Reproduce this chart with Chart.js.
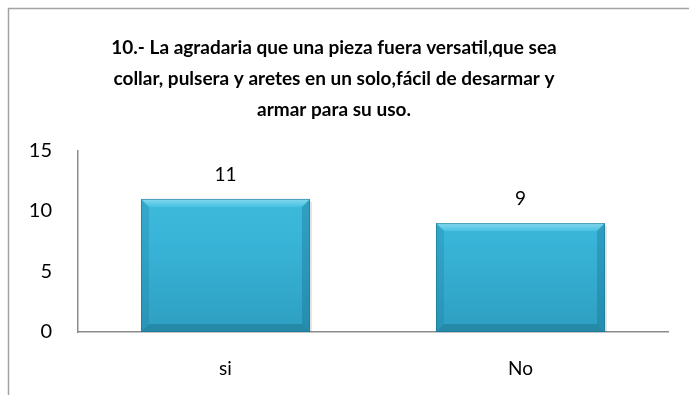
<!DOCTYPE html>
<html>
<head>
<meta charset="utf-8">
<script src="https://cdn.jsdelivr.net/npm/chart.js@4.4.1/dist/chart.umd.min.js"></script>
<style>
  html, body { margin: 0; padding: 0; background: #fff; }
  #wrap { width: 689px; height: 395px; position: relative; }
</style>
</head>
<body>
<div id="wrap"><canvas id="respuestaChart"></canvas></div>
<script>
const titleLines = [
  "10.- La agradaria que una pieza fuera versatil,que sea",
  "collar, pulsera y aretes en un solo,fácil de desarmar y",
  "armar para su uso."
];
const categories = ["si", "No"];
const respuestas = [11, 9];
const yTicks = [0, 5, 10, 15];

const FONT = "Lato, 'Open Sans', sans-serif";

// frame lines on the left and top edge
const framePlugin = {
  id: 'frame',
  beforeDraw(chart) {
    const ctx = chart.ctx;
    ctx.save();
    ctx.strokeStyle = '#a3a3a3';
    ctx.lineWidth = 1.5;
    ctx.beginPath();
    ctx.moveTo(8.5, chart.height);
    ctx.lineTo(8.5, 8.5);
    ctx.lineTo(chart.width, 8.5);
    ctx.stroke();
    ctx.restore();
  }
};

// bevelled edges and value labels on top of each bar
const bevelPlugin = {
  id: 'bevel',
  afterDatasetsDraw(chart) {
    const ctx = chart.ctx;
    const meta = chart.getDatasetMeta(0);
    const b = 8;
    meta.data.forEach((bar, i) => {
      const p = bar.getProps(['x', 'y', 'base', 'width'], true);
      const l = p.x - p.width / 2, r = p.x + p.width / 2, t = p.y, bt = p.base;
      ctx.save();
      // soft shadow on right side
      ctx.fillStyle = 'rgba(0,0,0,0.10)';
      ctx.fillRect(r, t + 3, 2, bt - t - 3);
      // top bevel
      let g = ctx.createLinearGradient(0, t, 0, t + b);
      g.addColorStop(0, '#86d9ee');
      g.addColorStop(1, '#48c1e1');
      ctx.fillStyle = g;
      ctx.beginPath();
      ctx.moveTo(l, t); ctx.lineTo(r, t); ctx.lineTo(r - b, t + b); ctx.lineTo(l + b, t + b);
      ctx.closePath(); ctx.fill();
      // left bevel
      ctx.fillStyle = 'rgba(25,110,140,0.22)';
      ctx.beginPath();
      ctx.moveTo(l, t); ctx.lineTo(l + b, t + b); ctx.lineTo(l + b, bt - b); ctx.lineTo(l, bt);
      ctx.closePath(); ctx.fill();
      // right bevel
      ctx.fillStyle = 'rgba(20,100,130,0.3)';
      ctx.beginPath();
      ctx.moveTo(r, t); ctx.lineTo(r - b, t + b); ctx.lineTo(r - b, bt - b); ctx.lineTo(r, bt);
      ctx.closePath(); ctx.fill();
      // bottom bevel
      ctx.fillStyle = 'rgba(15,85,110,0.3)';
      ctx.beginPath();
      ctx.moveTo(l, bt); ctx.lineTo(l + b, bt - b); ctx.lineTo(r - b, bt - b); ctx.lineTo(r, bt);
      ctx.closePath(); ctx.fill();
      ctx.strokeStyle = 'rgba(25,110,140,0.55)';
      ctx.lineWidth = 1;
      ctx.strokeRect(l + 0.5, t + 0.5, p.width - 1, bt - t - 1);
      // value label
      ctx.fillStyle = '#000';
      ctx.font = '19px ' + FONT;
      ctx.textAlign = 'center';
      ctx.textBaseline = 'middle';
      ctx.fillText(String(respuestas[i]), p.x, t - 24);
      ctx.restore();
    });
  }
};

new Chart(document.getElementById('respuestaChart'), {
  type: 'bar',
  data: {
    labels: categories,
    datasets: [{
      data: respuestas,
      backgroundColor: (c) => {
        const area = c.chart.chartArea;
        if (!area) return '#38b4d8';
        const g = c.chart.ctx.createLinearGradient(0, area.top, 0, area.bottom);
        g.addColorStop(0, '#45c0e0');
        g.addColorStop(0.5, '#38b4d8');
        g.addColorStop(1, '#2e9fc1');
        return g;
      },
      borderWidth: 0,
      categoryPercentage: 1,
      barPercentage: 0.573
    }]
  },
  options: {
    responsive: true,
    maintainAspectRatio: false,
    animation: false,
    layout: { padding: { left: 0, right: 21, top: 0, bottom: 0 } },
    plugins: {
      legend: { display: false },
      tooltip: { enabled: false },
      title: {
        display: true,
        text: titleLines,
        color: '#000',
        font: { family: FONT, size: 19, weight: 'bold', lineHeight: 1.64 },
        padding: { top: 32, bottom: 25 }
      }
    },
    scales: {
      x: {
        grid: { display: false, drawTicks: false },
        border: { display: true, color: '#8c8c8c', width: 1.5 },
        ticks: { color: '#000', font: { family: FONT, size: 19 }, padding: 25 },
        afterFit(scale) { scale.height = 63; }
      },
      y: {
        min: 0,
        max: 15,
        grid: { display: false, drawTicks: false },
        border: { display: true, color: '#8c8c8c', width: 1.5 },
        afterBuildTicks(scale) { scale.ticks = yTicks.map(v => ({ value: v })); },
        ticks: { color: '#000', font: { family: FONT, size: 20 }, padding: 26 },
        afterFit(scale) { scale.width = 78; }
      }
    }
  },
  plugins: [framePlugin, bevelPlugin]
});
</script>
</body>
</html>
